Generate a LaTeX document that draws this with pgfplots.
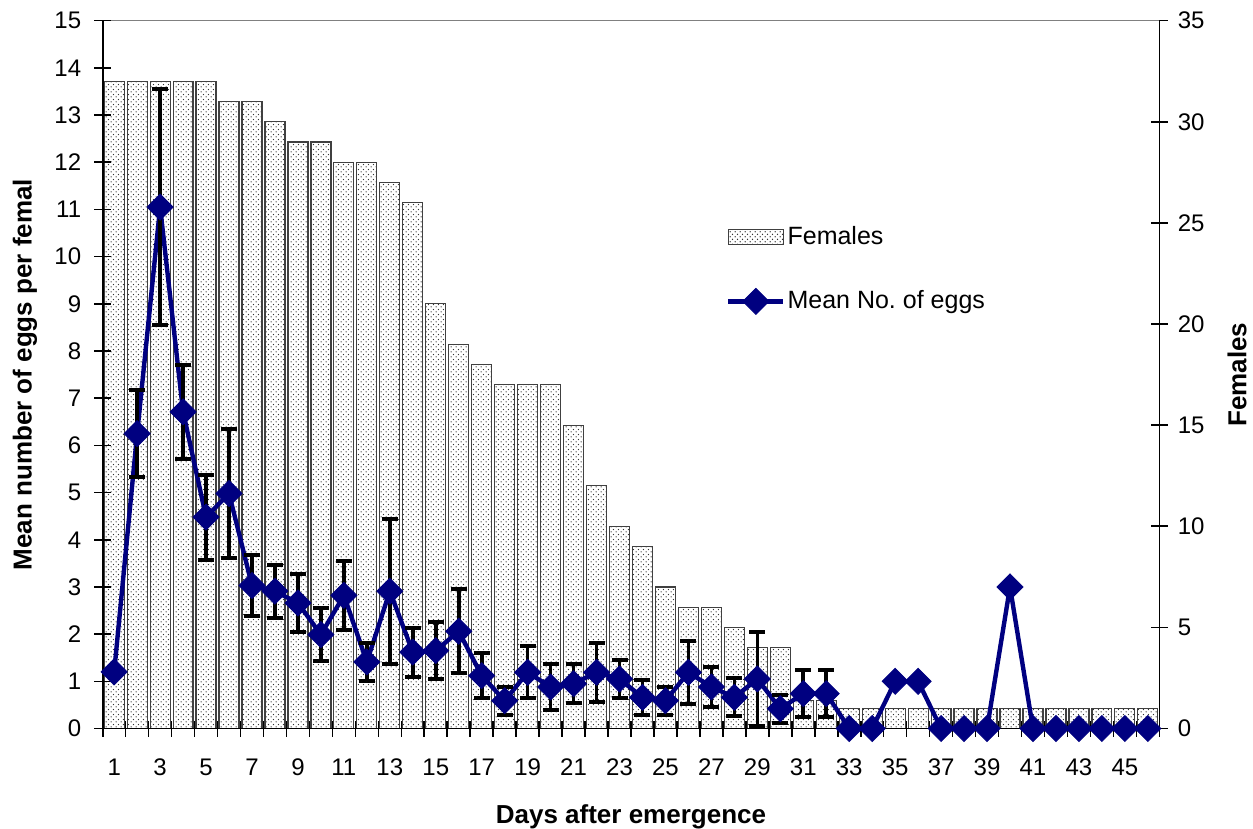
\documentclass[border=0pt]{standalone}
\usepackage{pgfplots}
\pgfplotsset{compat=1.18}
\usepackage{fontspec}
\setmainfont{Liberation Sans}
\usetikzlibrary{patterns,calc}

\definecolor{xlnavy}{RGB}{0,0,128}
% small staggered dots, like the spreadsheet fill
\pgfdeclarepatternformonly{exceldots}{\pgfqpoint{0pt}{0pt}}{\pgfqpoint{2.4pt}{2.4pt}}{\pgfqpoint{2.4pt}{2.4pt}}{%
  \pgfpathcircle{\pgfqpoint{0.6pt}{0.6pt}}{0.36pt}%
  \pgfpathcircle{\pgfqpoint{1.8pt}{1.8pt}}{0.36pt}%
  \pgfusepath{fill}}

\pgfplotsset{
  eggs legend/.style={legend image code/.code={%
    \draw[mark repeat=2, mark phase=2, ##1] plot coordinates {(0pt,0pt) (13.75pt,0pt) (27.5pt,0pt)};}},
  females legend/.style={legend image code/.code={%
    \draw[##1] (0pt,-3.75pt) rectangle (27.5pt,3.75pt);}},
}

\begin{document}
\begin{tikzpicture}
\pgfplotsset{
  every axis/.append style={
    scale only axis, width=528.3pt, height=353.9pt,
    xmin=0.5, xmax=46.5, ymin=0,
    tick align=center, major tick length=8.5pt, minor tick length=8pt,
    tick style={black, line width=0.8pt},
    tick label style={font=\fontsize{12}{14}\selectfont},
    /pgf/number format/assume math mode=true,
    label style={font=\fontsize{13}{15}\selectfont\bfseries},
  },
}

% females (right axis), drawn first so the line sits on top
\begin{axis}[
  ymax=35, ytick={0,5,...,35},
  axis y line*=right, axis x line*=top,
  x axis line style={draw=black!50, line width=0.8pt},
  y axis line style={line width=0.8pt},
  xtick=\empty,
  yticklabel style={xshift=1.5pt},
  ylabel={Females},
  ylabel style={at={(axis description cs:1.0735,0.5)}, anchor=center, rotate=0},
]
\addplot[ybar, bar width=0.87, draw=black!75, line width=0.6pt,
  pattern=exceldots, pattern color=black!80] coordinates {
  (1,32) (2,32) (3,32) (4,32) (5,32) (6,31) (7,31) (8,30) (9,29) (10,29)
  (11,28) (12,28) (13,27) (14,26) (15,21) (16,19) (17,18) (18,17) (19,17) (20,17)
  (21,15) (22,12) (23,10) (24,9) (25,7) (26,6) (27,6) (28,5) (29,4) (30,4)
  (31,1.4) (32,1.4) (33,1) (34,1) (35,1) (36,1) (37,1) (38,1) (39,1) (40,1)
  (41,1) (42,1) (43,1) (44,1) (45,1) (46,1)
};
\end{axis}

% mean eggs (left axis)
\begin{axis}[
  ymax=15, ytick={0,1,...,15},
  axis y line*=left, axis x line*=bottom,
  axis line style={line width=0.8pt},
  xtick={1,3,...,45}, minor xtick={0.5,1.5,...,46.5},
  major x tick style={draw=none},
  xticklabel style={yshift=-7.5pt},
  yticklabel style={xshift=-3pt},
  ylabel={Mean number of eggs per femal},
  ylabel style={at={(axis description cs:-0.0735,0.5)}, anchor=center},
  xlabel={Days after emergence},
  xlabel style={at={(axis description cs:0.5,-0.1349)}, anchor=base},
  clip=false,
  legend cell align=left,
  legend style={at={(rel axis cs:0.5897,0.713)}, anchor=north west,
    draw=none, fill=none, inner sep=0pt, row sep=19.5pt, column sep=0pt,
    nodes={inner sep=1pt},
    font=\fontsize{12.5}{15}\selectfont},
]
\addlegendimage{females legend, draw=black!75, line width=0.6pt, pattern=exceldots, pattern color=black!80}
\addlegendentry{Females}
\addplot[color=xlnavy, line width=2.2pt,
  mark=square*, mark size=4.6pt, mark options={rotate=45, solid, line width=0.4pt},
  eggs legend,
  error bars/.cd, y dir=both, y explicit,
  error bar style={black, line width=1.8pt},
  error mark options={black, rotate=90, line width=2pt, mark size=4pt},
] table[x=d, y=m, y error=e] {
d  m     e
1  1.20  0
2  6.25  0.92
3  11.05 2.50
4  6.71  1.00
5  4.48  0.90
6  4.98  1.36
7  3.03  0.65
8  2.91  0.56
9  2.66  0.62
10 1.99  0.57
11 2.82  0.73
12 1.41  0.40
13 2.91  1.54
14 1.62  0.52
15 1.65  0.60
16 2.06  0.89
17 1.12  0.48
18 0.59  0.30
19 1.19  0.55
20 0.88  0.48
21 0.95  0.42
22 1.19  0.63
23 1.05  0.40
24 0.66  0.37
25 0.59  0.30
26 1.19  0.67
27 0.88  0.42
28 0.66  0.40
29 1.05  1.00
30 0.42  0.30
31 0.74  0.50
32 0.74  0.50
33 0     0
34 0     0
35 1.00  0
36 1.00  0
37 0     0
38 0     0
39 0     0
40 3.00  0
41 0     0
42 0     0
43 0     0
44 0     0
45 0     0
46 0     0
};
\addlegendentry{Mean No.\ of eggs}
\coordinate (bl) at (rel axis cs:0,0);
\coordinate (tr) at (rel axis cs:1,1);
\end{axis}
\pgfresetboundingbox
\path[use as bounding box] ($(bl)+(-51.35pt,-49.75pt)$) rectangle ($(tr)+(46.85pt,10.35pt)$);
\end{tikzpicture}
\end{document}
